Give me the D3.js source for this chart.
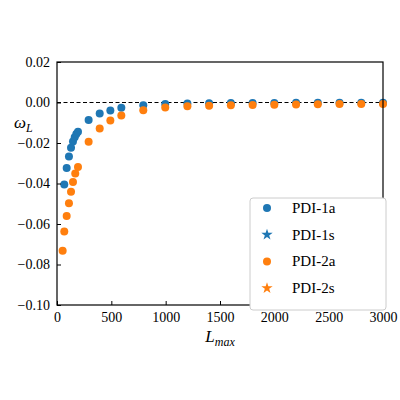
<!DOCTYPE html>
<html><head><meta charset="utf-8">
<script src="https://cdn.jsdelivr.net/npm/d3@7"></script>
<style>body{margin:0;background:#fff}svg{font-family:"Liberation Serif","DejaVu Serif",serif}</style>
</head><body><svg id="c" width="400" height="400"></svg>
<script>
const xBlue = [67, 89, 110, 129, 147, 163, 178, 193, 291, 393, 491, 592, 794, 996, 1200, 1400, 1600, 1800, 2000, 2200, 2400, 2600, 2800, 3000];
const yBlue = [-0.0405, -0.0323, -0.0267, -0.0224, -0.0193, -0.0171, -0.0155, -0.0145, -0.0087, -0.0054, -0.0040, -0.0026, -0.0013, -0.0007, -0.0005, -0.0004, -0.0003, -0.0002, -0.0002, -0.0001, -0.0001, -0.0001, -0.0001, -0.0001];
const xOrange = [52, 67, 89, 110, 129, 147, 168, 193, 291, 393, 491, 592, 794, 996, 1200, 1400, 1600, 1800, 2000, 2200, 2400, 2600, 2800, 3000];
const yOrange = [-0.0732, -0.0637, -0.056, -0.0497, -0.0441, -0.0393, -0.035, -0.0318, -0.0194, -0.0128, -0.0089, -0.0064, -0.0038, -0.0025, -0.0019, -0.0016, -0.0014, -0.0012, -0.0011, -0.0010, -0.0009, -0.0008, -0.0008, -0.0007];
const xTicks = [0, 500, 1000, 1500, 2000, 2500, 3000];
const yTicks = [0.02, 0.00, -0.02, -0.04, -0.06, -0.08, -0.10];
const legendLabels = ["PDI-1a", "PDI-1s", "PDI-2a", "PDI-2s"];
const legendColors = ["#1f77b4", "#1f77b4", "#ff7f0e", "#ff7f0e"];
const legendStar = [false, true, false, true];

const svg = d3.select("#c");
const L = 57, R = 383, T = 62, B = 305;
const x = d3.scaleLinear().domain([0, 3000]).range([L, R]);
const y = d3.scaleLinear().domain([-0.10, 0.02]).range([B, T]);

svg.append("line").attr("x1", L).attr("x2", R).attr("y1", y(0)).attr("y2", y(0))
  .attr("stroke", "#000").attr("stroke-width", 1).attr("stroke-dasharray", "4,2.5");

const g = svg.append("g");
xBlue.forEach((v, i) => g.append("circle").attr("cx", x(v)).attr("cy", y(yBlue[i])).attr("r", 4).attr("fill", "#1f77b4"));
xOrange.forEach((v, i) => g.append("circle").attr("cx", x(v)).attr("cy", y(yOrange[i])).attr("r", 4).attr("fill", "#ff7f0e"));

const xa = svg.append("g").attr("transform", `translate(0,${B})`)
  .call(d3.axisBottom(x).tickValues(xTicks).tickSize(-4).tickPadding(7).tickFormat(d3.format("d")));
const ya = svg.append("g").attr("transform", `translate(${L},0)`)
  .call(d3.axisLeft(y).tickValues(yTicks).tickSize(-4).tickPadding(7).tickFormat(d3.format(".2f")));
[xa, ya].forEach(a => { a.selectAll("text").attr("font-size", 14).attr("font-family", "Liberation Serif").attr("fill", "#000"); a.select(".domain").remove(); });
svg.append("rect").attr("x", L).attr("y", T).attr("width", R - L).attr("height", B - T)
  .attr("fill", "none").attr("stroke", "#000").attr("stroke-width", 1.2);

svg.append("text").attr("x", (L + R) / 2).attr("y", 342).attr("text-anchor", "middle")
  .attr("font-size", 17).attr("font-style", "italic")
  .html('L<tspan font-size="12" dy="4">max</tspan>');
svg.append("text").attr("x", 14).attr("y", 128).attr("font-size", 17).attr("font-style", "italic")
  .html('ω<tspan font-size="12" dy="4">L</tspan>');

const lg = svg.append("g").attr("transform", "translate(250,198)");
lg.append("rect").attr("width", 136).attr("height", 112).attr("rx", 3).attr("fill", "#fff")
  .attr("stroke", "#ccc");
const star = d3.symbol().type(d3.symbolStar).size(40);
legendLabels.forEach((t, i) => {
  const cy = 10 + i * 26.7;
  if (legendStar[i]) lg.append("path").attr("d", star).attr("transform", `translate(17,${cy})`).attr("fill", legendColors[i]);
  else lg.append("circle").attr("cx", 17).attr("cy", cy).attr("r", 4).attr("fill", legendColors[i]);
  lg.append("text").attr("x", 42).attr("y", cy + 5).attr("font-size", 15).text(t);
});
</script></body></html>
